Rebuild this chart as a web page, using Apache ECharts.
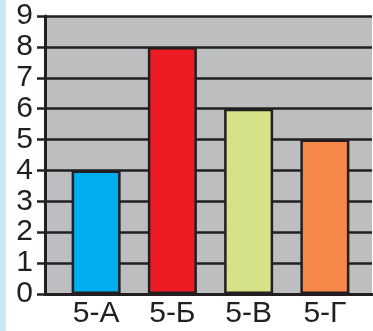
<!DOCTYPE html>
<html>
<head>
<meta charset="utf-8">
<style>
  html, body { margin: 0; padding: 0; background: #ffffff; }
  #chart { width: 373px; height: 331px; }
</style>
<script src="https://cdn.jsdelivr.net/npm/echarts@6/dist/echarts.min.js"></script>
</head>
<body>
<div id="chart"></div>
<script>
// Class names and counts per class
const categories = ['5-А', '5-Б', '5-В', '5-Г'];
const values = [4, 8, 6, 5];
const barColors = ['#00aeef', '#ed1c24', '#d5e287', '#f6894a'];
const yMin = 0, yMax = 9, yStep = 1;

const ink = '#231f20';
const font = 'Liberation Sans, Arial, Helvetica, sans-serif';

const chart = echarts.init(document.getElementById('chart'), null, { renderer: 'canvas' });

chart.setOption({
  animation: false,
  backgroundColor: '#ffffff',
  graphic: [{
    type: 'rect', z: -10,
    shape: { x: 0, y: 0, width: 6, height: 331 },
    style: { fill: '#cbe9f8' }
  }],
  grid: [
    { left: 45, top: 16, right: 1, bottom: 37, show: true, backgroundColor: '#bcbec0', borderWidth: 0 },
    { left: 58, top: 16, width: 305, bottom: 37 }
  ],
  xAxis: [
    {
      gridIndex: 0, type: 'category', data: [''],
      axisLine: { show: true, lineStyle: { color: ink, width: 3 } },
      axisTick: { show: false }, axisLabel: { show: false }, splitLine: { show: false }
    },
    {
      gridIndex: 1, type: 'category', data: categories,
      axisLine: { show: false }, axisTick: { show: false }, splitLine: { show: false },
      axisLabel: { fontSize: 30, color: ink, margin: 5, fontFamily: font }
    }
  ],
  yAxis: [
    {
      gridIndex: 0, type: 'value', min: yMin, max: yMax, interval: yStep,
      axisLine: { show: true, lineStyle: { color: ink, width: 3 } },
      axisTick: { show: true, length: 8, lineStyle: { color: ink, width: 2.5 } },
      splitLine: { show: true, lineStyle: { color: ink, width: 2.5 } },
      axisLabel: { fontSize: 30, color: ink, margin: 12, fontFamily: font }
    },
    { gridIndex: 1, type: 'value', min: yMin, max: yMax, interval: yStep, show: false }
  ],
  series: [{
    type: 'bar', xAxisIndex: 1, yAxisIndex: 1,
    barWidth: 49,
    itemStyle: { borderColor: ink, borderWidth: 2.5 },
    data: values.map((v, i) => ({ value: v, itemStyle: { color: barColors[i] } }))
  }]
});
</script>
</body>
</html>
